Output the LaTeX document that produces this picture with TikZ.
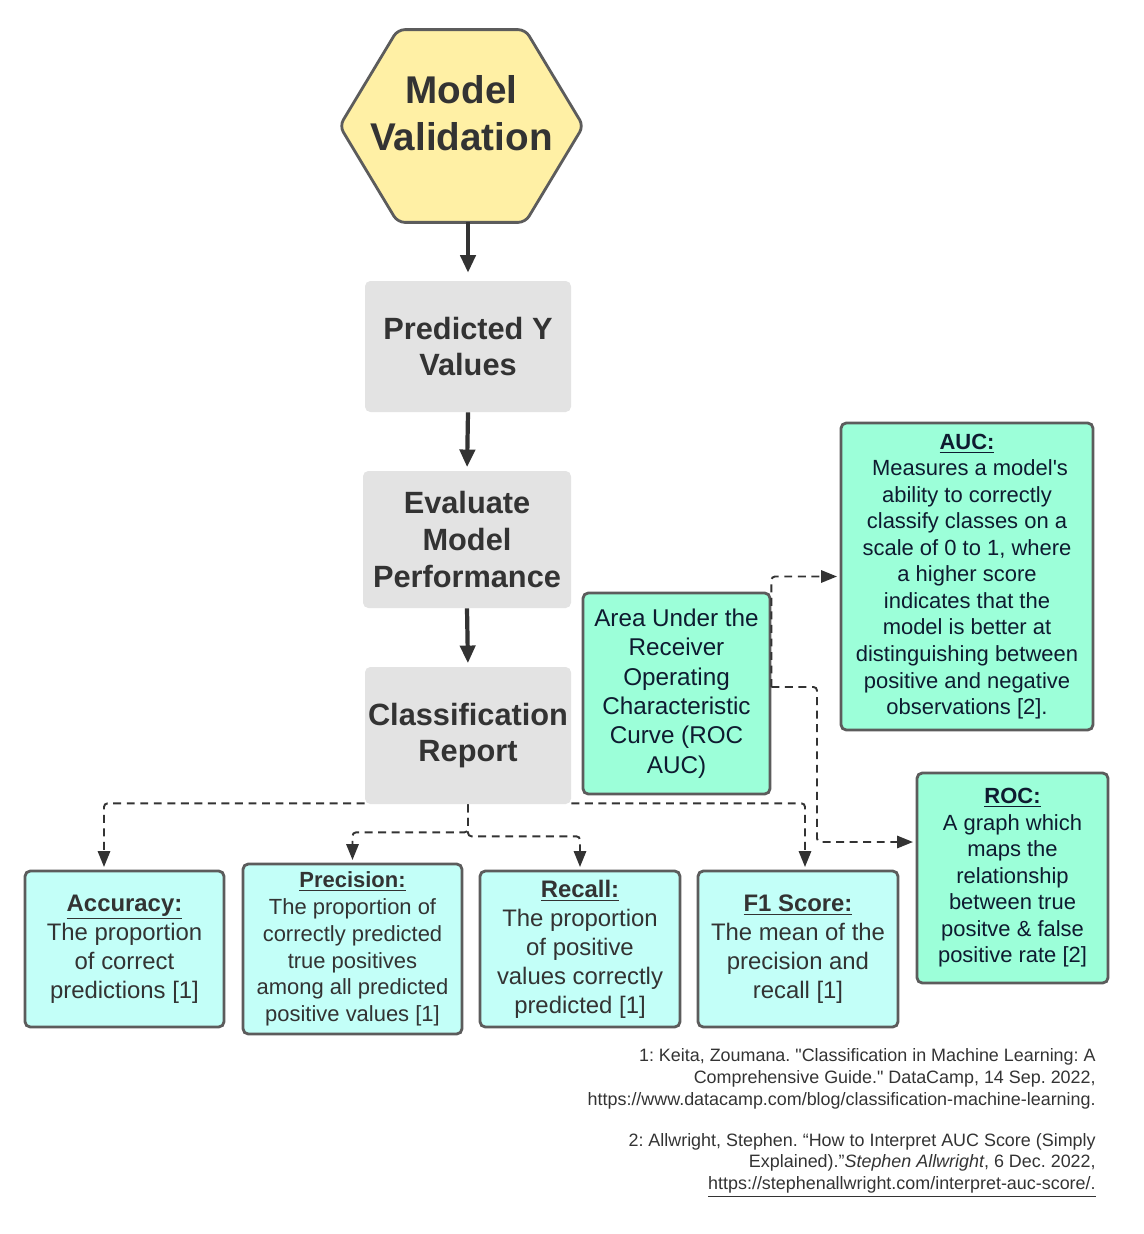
\documentclass[tikz,border=0pt]{standalone}
\usepackage{fontspec}
\setmainfont{Liberation Sans}
\usetikzlibrary{arrows.meta}
\definecolor{hexfill}{HTML}{FFF0A5}
\definecolor{greyfill}{HTML}{E3E3E3}
\definecolor{aquafill}{HTML}{9CFFD9}
\definecolor{cyanfill}{HTML}{C3FFF8}
\definecolor{edge}{HTML}{5C5C5C}
\definecolor{ink}{HTML}{333333}
\definecolor{navy}{HTML}{0E1B30}
\newlength\pxu
\setlength\pxu{0.02cm}
\newcommand\sdq{\XeTeXglyph\XeTeXcharglyph"22\relax}
\newcommand\ssq{\XeTeXglyph\XeTeXcharglyph"27\relax}
\frenchspacing

\begin{document}
\begin{tikzpicture}[x=0.02cm, y=-0.02cm,
    stepbox/.style={fill=greyfill, rounded corners=3pt, text=ink, align=center, inner sep=0pt,
        font=\fontsize{17.5}{21}\selectfont\bfseries},
    metric/.style={draw=edge, line width=1.6pt, fill=cyanfill, rounded corners=3pt, text=ink,
        align=center, inner sep=0pt, font=\fontsize{13.6}{16.5}\selectfont},
    aucbox/.style={metric, fill=aquafill, text=navy, font=\fontsize{12.5}{15.1}\selectfont},
    refnote/.style={anchor=east, align=right, text=ink, inner sep=0pt, font=\fontsize{10.2}{12.4}\selectfont},
    flow/.style={draw=ink, line width=2.4pt, -{Triangle[length=10pt,width=8.5pt]}, shorten >=2pt},
    dashcon/.style={draw=ink, line width=1.1pt, dash pattern=on 4.5pt off 3.2pt, rounded corners=2pt,
        -{Triangle[length=9pt,width=7pt]}, shorten >=1.5pt}]
    \useasboundingbox (0,0) rectangle (1143,1234);

    \node[minimum width=243*\pxu, minimum height=192*\pxu, inner sep=0pt] at (461.5, 126)(mv) {};
    \draw[draw=edge, line width=1.6pt, fill=hexfill, rounded corners=4pt] (mv.west)
        -- ([xshift=58*\pxu]mv.north west) -- ([xshift=-58*\pxu]mv.north east) -- (mv.east)
        -- ([xshift=-58*\pxu]mv.south east) -- ([xshift=58*\pxu]mv.south west) -- cycle;
    \node[text=ink, align=center, font=\fontsize{22}{27}\selectfont\bfseries] at (461.5, 113)(mvtext) {Model\\Validation};

    \node[stepbox, minimum width=206*\pxu, minimum height=131*\pxu] at (468, 346.5)(pred) {Predicted Y\\Values};
    \node[stepbox, minimum width=208*\pxu, minimum height=137*\pxu] at (467, 539.5)(eval) {Evaluate\\Model\\Performance};
    \node[stepbox, minimum width=206*\pxu, minimum height=137*\pxu] at (468, 735.5)(crep) {Classification\\Report};

    \node[aucbox, font=\fontsize{13.8}{16.7}\selectfont, minimum width=187*\pxu, minimum height=201*\pxu] at (676.5, 693.5)(aucroc)
        {Area Under the\\Receiver\\Operating\\Characteristic\\Curve (ROC\\AUC)};
    \node[aucbox, minimum width=252*\pxu, minimum height=307*\pxu] at (967, 576.5)(auc)
        {\underline{\textbf{AUC:}}\\\ Measures a model\ssq s\\ability to correctly\\classify classes on a\\scale of 0 to 1, where\\a higher score\\indicates that the\\model is better at\\distinguishing between\\positive and negative\\observations [2].};
    \node[aucbox, minimum width=191*\pxu, minimum height=210*\pxu] at (1012.5, 878)(roc)
        {\underline{\textbf{ROC:}}\\A graph which\\maps the\\relationship\\between true\\positve \& false\\positive rate [2]};

    \node[metric, minimum width=199*\pxu, minimum height=156*\pxu] at (124.5, 949)(acc)
        {\underline{\textbf{Accuracy:}}\\The proportion\\of correct\\predictions [1]};
    \node[metric, font=\fontsize{12.5}{15.2}\selectfont, minimum width=219*\pxu, minimum height=170*\pxu] at (352.5, 949)(prec)
        {\underline{\textbf{Precision:}}\\The proportion of\\correctly predicted\\true positives\\among all predicted\\positive values [1]};
    \node[metric, minimum width=200*\pxu, minimum height=156*\pxu] at (580, 949)(rec)
        {\underline{\textbf{Recall:}}\\The proportion\\of positive\\values correctly\\predicted [1]};
    \node[metric, minimum width=200*\pxu, minimum height=156*\pxu] at (798, 949)(f1)
        {\underline{\textbf{F1 Score:}}\\The mean of the\\precision and\\recall [1]};

    \draw[flow, shorten >=4.5pt] (mv.south -| pred.north) -- (pred.north);
    \draw[flow] (pred.south) -- (eval.north);
    \draw[flow] (eval.south) -- (crep.north);

    \draw[dashcon] ([yshift=1*\pxu]crep.south west) -| (104,0 |- acc.north);
    \draw[dashcon] (crep.south) -- ++(0,28) -| (prec.north);
    \draw[dashcon] (crep.south) -- ++(0,32) -| (rec.north);
    \draw[dashcon] ([yshift=1*\pxu]crep.south east) -| (805,0 |- f1.north);

    \coordinate (rocsplit) at (aucroc.east |- 0,687);
    \draw[dashcon] (rocsplit) |- (auc.west);
    \draw[dashcon] (rocsplit) -| (817,842) -- (roc.west |- 0,842);

    \node[refnote] at (1096, 1079)(ref1)
        {1: Keita, Zoumana. \sdq Classification in Machine Learning: A\\Comprehensive Guide.\sdq{} DataCamp, 14 Sep. 2022,\\https://www.datacamp.com/blog/classification-machine-learning.};
    \node[refnote] at (1096, 1165)(ref2)
        {2: Allwright, Stephen. “How to Interpret AUC Score (Simply\\Explained).”\textit{Stephen Allwright}, 6 Dec. 2022,\\\underline{https://stephenallwright.com/interpret-auc-score/.}};
\end{tikzpicture}
\end{document}
